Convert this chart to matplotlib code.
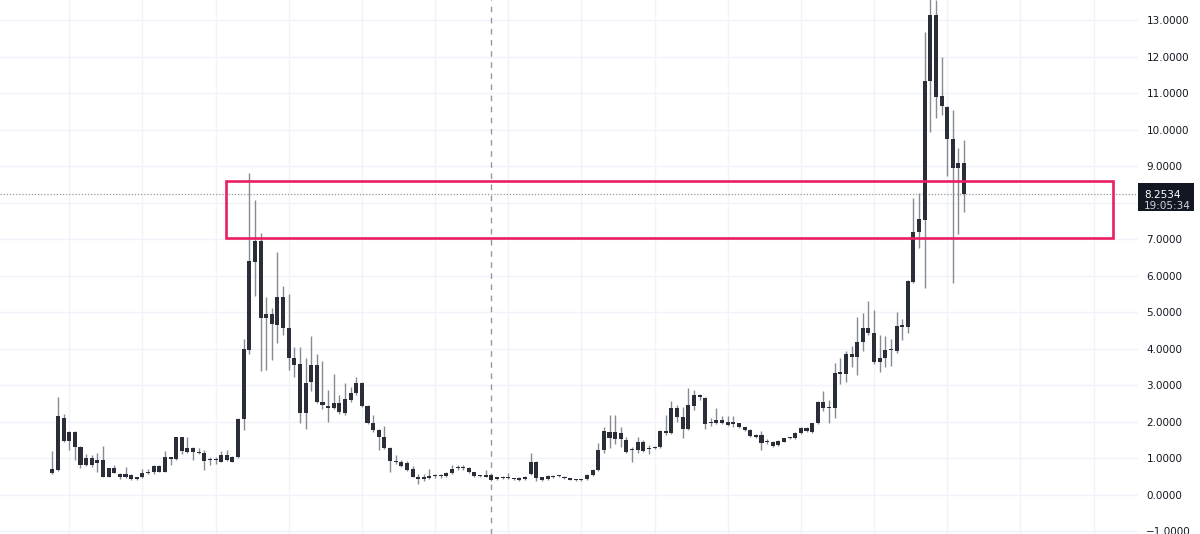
import matplotlib
matplotlib.use("Agg")
import matplotlib.pyplot as plt
import matplotlib.ticker as mticker
from matplotlib.patches import Rectangle
import numpy as np

# weekly candles, oldest first
opens = [
    0.59, 0.69, 2.10, 1.48, 1.73, 1.32, 0.82, 1.02, 0.87, 0.96,
    0.50, 0.73, 0.58, 0.48, 0.55, 0.44, 0.48, 0.59, 0.64, 0.79,
    0.64, 1.03, 0.98, 1.58, 1.19, 1.28, 1.14, 1.14, 0.95, 0.96,
    0.91, 1.10, 0.91, 1.03, 2.07, 3.97, 6.39, 6.97, 4.86, 4.96,
    4.66, 5.41, 4.57, 3.76, 3.59, 2.24, 3.10, 3.56, 2.56, 2.45,
    2.38, 2.51, 2.24, 2.60, 2.79, 3.06, 2.44, 1.98, 1.78, 1.60,
    1.28, 0.93, 0.89, 0.88, 0.70, 0.50, 0.43, 0.46, 0.51, 0.53,
    0.52, 0.61, 0.74, 0.76, 0.73, 0.62, 0.53, 0.50, 0.55, 0.45,
    0.46, 0.47, 0.45, 0.46, 0.44, 0.58, 0.91, 0.48, 0.44, 0.51,
    0.51, 0.49, 0.44, 0.42, 0.40, 0.43, 0.55, 0.68, 1.23, 1.73,
    1.53, 1.71, 1.51, 1.22, 1.23, 1.46, 1.25, 1.29, 1.30, 1.76,
    1.69, 2.37, 2.13, 1.80, 2.44, 2.68, 2.65, 1.97, 1.96, 2.05,
    2.01, 1.95, 1.96, 1.85, 1.78, 1.64, 1.64, 1.45, 1.46, 1.37,
    1.46, 1.56, 1.55, 1.69, 1.83, 1.72, 1.96, 2.56, 2.38, 2.37,
    3.30, 3.32, 3.86, 3.79, 4.18, 4.58, 4.45, 3.63, 3.75, 3.96,
    3.95, 4.64, 4.61, 5.84, 7.21, 7.53, 11.35, 13.15, 10.93, 10.64,
    9.74, 8.95, 9.10,
]
highs = [
    1.21, 2.68, 2.21, 1.76, 1.75, 1.34, 1.12, 1.10, 1.16, 1.35,
    0.75, 0.82, 0.61, 0.76, 0.57, 0.50, 0.70, 0.70, 0.81, 0.81,
    1.20, 1.05, 1.60, 1.60, 1.58, 1.30, 1.28, 1.23, 1.03, 1.05,
    1.20, 1.22, 1.07, 2.11, 4.27, 8.81, 8.08, 7.19, 5.42, 5.11,
    6.65, 5.73, 5.51, 4.06, 4.06, 3.75, 4.36, 3.86, 3.67, 2.88,
    3.32, 2.74, 3.08, 2.95, 3.24, 3.10, 2.46, 2.19, 1.80, 1.89,
    1.30, 1.10, 0.95, 0.94, 0.78, 0.58, 0.58, 0.70, 0.58, 0.58,
    0.64, 0.82, 0.82, 0.82, 0.76, 0.64, 0.56, 0.67, 0.57, 0.50,
    0.51, 0.60, 0.47, 0.48, 0.52, 1.16, 0.93, 0.50, 0.55, 0.54,
    0.55, 0.51, 0.46, 0.44, 0.45, 0.57, 0.70, 1.43, 1.87, 2.19,
    2.19, 1.87, 1.60, 1.32, 1.60, 1.50, 1.37, 1.35, 1.78, 2.19,
    2.58, 2.46, 2.42, 2.92, 2.88, 2.76, 2.67, 2.10, 2.37, 2.15,
    2.15, 2.15, 1.98, 1.87, 1.80, 1.66, 1.74, 1.52, 1.48, 1.50,
    1.57, 1.60, 1.73, 1.85, 1.86, 1.98, 2.58, 2.85, 2.60, 3.62,
    3.74, 3.95, 4.08, 4.88, 4.98, 5.30, 5.07, 4.38, 4.36, 4.27,
    5.00, 4.81, 5.90, 8.13, 8.28, 12.69, 13.70, 13.55, 12.00, 10.66,
    10.55, 9.50, 9.73,
]
lows = [
    0.58, 0.66, 1.45, 1.23, 0.96, 0.73, 0.80, 0.77, 0.64, 0.48,
    0.48, 0.59, 0.44, 0.46, 0.41, 0.42, 0.46, 0.57, 0.57, 0.62,
    0.62, 0.82, 0.96, 1.12, 1.14, 0.96, 1.12, 0.68, 0.82, 0.86,
    0.89, 0.94, 0.89, 1.01, 1.78, 3.86, 5.45, 3.40, 3.42, 3.70,
    4.16, 4.38, 3.42, 3.22, 1.96, 1.80, 2.86, 2.51, 2.35, 2.01,
    2.35, 2.22, 2.20, 2.55, 2.75, 2.40, 1.94, 1.73, 1.23, 1.26,
    0.64, 0.85, 0.76, 0.66, 0.48, 0.29, 0.39, 0.44, 0.46, 0.47,
    0.50, 0.58, 0.67, 0.69, 0.60, 0.50, 0.49, 0.48, 0.39, 0.42,
    0.43, 0.45, 0.40, 0.39, 0.42, 0.56, 0.38, 0.39, 0.42, 0.46,
    0.48, 0.45, 0.40, 0.38, 0.38, 0.41, 0.53, 0.66, 1.15, 1.28,
    1.40, 1.32, 1.15, 0.91, 1.15, 1.18, 1.12, 1.25, 1.28, 1.64,
    1.66, 2.00, 1.56, 1.78, 2.33, 2.60, 1.80, 1.89, 1.93, 1.95,
    1.89, 1.85, 1.83, 1.75, 1.60, 1.56, 1.23, 1.40, 1.30, 1.35,
    1.44, 1.53, 1.53, 1.66, 1.73, 1.70, 1.94, 2.30, 1.96, 2.10,
    3.04, 3.09, 3.50, 3.29, 3.93, 4.38, 3.59, 3.38, 3.50, 3.52,
    3.90, 4.25, 4.45, 5.80, 6.76, 5.66, 9.93, 10.32, 10.41, 8.74,
    5.82, 7.15, 7.76,
]
closes = [
    0.70, 2.15, 1.48, 1.73, 1.32, 0.82, 1.00, 0.82, 0.96, 0.50,
    0.73, 0.61, 0.48, 0.58, 0.44, 0.48, 0.59, 0.64, 0.79, 0.64,
    1.03, 0.98, 1.58, 1.21, 1.28, 1.17, 1.19, 0.93, 0.97, 0.95,
    1.10, 0.96, 1.05, 2.09, 3.99, 6.42, 6.97, 4.86, 4.96, 4.68,
    5.41, 4.57, 3.75, 3.56, 2.24, 3.08, 3.56, 2.56, 2.47, 2.38,
    2.51, 2.26, 2.62, 2.79, 3.06, 2.44, 1.98, 1.78, 1.60, 1.28,
    0.94, 0.89, 0.78, 0.68, 0.50, 0.43, 0.48, 0.52, 0.53, 0.51,
    0.61, 0.70, 0.76, 0.74, 0.62, 0.52, 0.51, 0.55, 0.41, 0.47,
    0.48, 0.49, 0.43, 0.41, 0.50, 0.91, 0.46, 0.41, 0.52, 0.49,
    0.53, 0.47, 0.42, 0.40, 0.42, 0.55, 0.68, 1.23, 1.75, 1.55,
    1.73, 1.53, 1.19, 1.24, 1.46, 1.21, 1.27, 1.31, 1.76, 1.69,
    2.37, 2.13, 1.80, 2.47, 2.74, 2.74, 1.95, 1.99, 2.05, 1.98,
    1.92, 1.97, 1.85, 1.78, 1.62, 1.60, 1.42, 1.47, 1.34, 1.48,
    1.55, 1.58, 1.71, 1.83, 1.75, 1.96, 2.56, 2.37, 2.42, 3.33,
    3.38, 3.86, 3.79, 4.20, 4.58, 4.45, 3.63, 3.75, 3.97, 3.98,
    4.64, 4.61, 5.86, 7.21, 7.55, 11.35, 13.15, 10.91, 10.66, 9.74,
    8.95, 9.10, 8.2534,
]

price_ticks = list(range(-1, 14))
hidden_tick = 8  # covered by the last-price tag on the scale
last_price_label = "8.2534"
countdown_label = "19:05:34"

# highlighted zone (price range and candle span)
zone_low, zone_high = 7.04, 8.60
zone_start, zone_end = 30.9, 188.5
crosshair_bar = 78

BODY = "#2a2e39"
WICK = "#878a93"
GRID = "#f0f3fa"
TEXT = "#131722"
ZONE = "#e91e63"

fig = plt.figure(figsize=(12, 5.34), dpi=100)
ax = fig.add_axes([0, 0, 1138 / 1200, 1])

o = np.array(opens)
h = np.array(highs)
l = np.array(lows)
c = np.array(closes)
x = np.arange(len(o))

bottom = np.minimum(o, c)
height = np.maximum(np.abs(c - o), 0.035)

ax.vlines(x, l, h, color=WICK, linewidth=1, zorder=2)
ax.bar(x, height, bottom=bottom, width=0.72, color=BODY, linewidth=0, zorder=3)

ax.set_xlim(-9.3, 192.9)
ax.set_ylim(-1.07, 13.56)

for s in ax.spines.values():
    s.set_visible(False)


def price_fmt(v, pos):
    if round(v) == hidden_tick:
        return ""
    return f"{v:.4f}".replace("-", "\u2212")


ax.set_xticks(np.arange(3, 193, 13))
ax.set_xticklabels([])
ax.set_yticks(price_ticks)
ax.yaxis.tick_right()
ax.yaxis.set_major_formatter(mticker.FuncFormatter(price_fmt))
ax.tick_params(axis="x", length=0)
ax.tick_params(axis="y", length=0, pad=6, labelsize=7.5, labelcolor=TEXT)
ax.grid(True, color=GRID, linewidth=1, zorder=0)
ax.set_axisbelow(True)

# crosshair and last price line
ax.axvline(crosshair_bar, color="#9598a1", linewidth=1, linestyle=(0, (4, 4)), zorder=1)
ax.axhline(closes[-1], color="#9598a1", linewidth=0.9, linestyle=(0, (1, 1.5)), zorder=1)

ax.add_patch(Rectangle((zone_start, zone_low), zone_end - zone_start, zone_high - zone_low,
                       fill=False, edgecolor=ZONE, linewidth=1.9, zorder=4))

# price tag on the scale
y_px = (closes[-1] + 1.07) / 14.63 * 534
fig.patches.append(Rectangle((1138 / 1200, (y_px - 17) / 534), 56 / 1200, 28 / 534,
                             transform=fig.transFigure, facecolor="#131722",
                             edgecolor="none", zorder=5))
fig.text(1144 / 1200, (y_px - 1) / 534, last_price_label, color="white",
         fontsize=7.5, va="center", ha="left", zorder=6)
fig.text(1144 / 1200, (y_px - 12) / 534, countdown_label, color="#d1d4dc",
         fontsize=7.5, va="center", ha="left", zorder=6)

fig.savefig("out.png", dpi=100, facecolor="white")
